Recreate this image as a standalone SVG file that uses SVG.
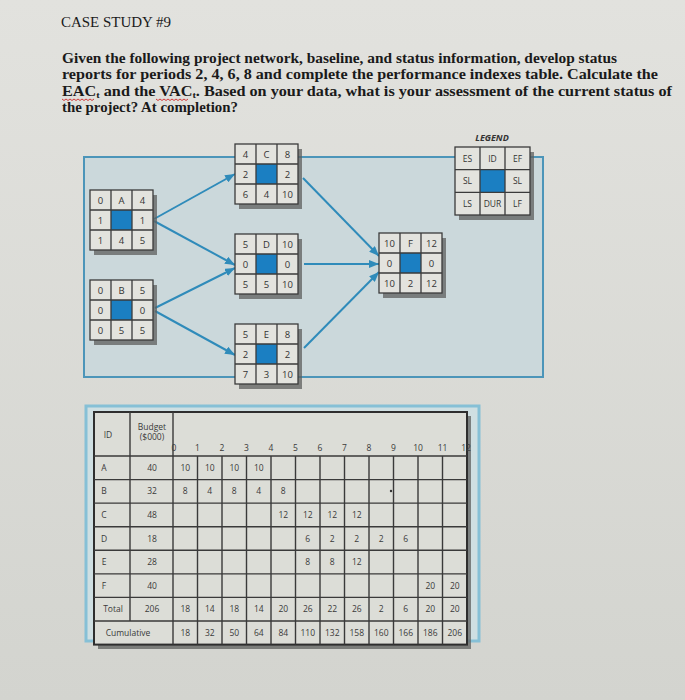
<svg xmlns="http://www.w3.org/2000/svg" width="685" height="700" viewBox="0 0 685 700">
<defs>
<linearGradient id="bg" x1="0" y1="0" x2="0" y2="1">
<stop offset="0" stop-color="#e2e2de"/>
<stop offset="1" stop-color="#d3d4cf"/>
</linearGradient>
<marker id="arr" markerUnits="userSpaceOnUse" markerWidth="10" markerHeight="8" refX="10" refY="4" orient="auto">
<path d="M0,0 L10,4 L0,8 z" fill="#2f8bba"/>
</marker>
<style>
.title{font-family:"Liberation Serif",serif;font-size:15px;fill:#1a1a1a}
.para{font-family:"Liberation Serif",serif;font-size:14px;font-weight:bold;fill:#1a1a1a}
.panel{fill:#cbd8db;stroke:#4c95b9;stroke-width:2}
.tpanel{fill:#cfdfe2;stroke:#86c0d6;stroke-width:3}
.shadow{fill:#5d5f5e;opacity:0.75}
.cell{fill:#e3e3de;stroke:#3b3b3b;stroke-width:1.3}
.grid{fill:none;stroke:#3b3b3b;stroke-width:1.3}
.blue{fill:#1b7fc2}
.nt{font-family:"Open Sans","Liberation Sans",sans-serif;font-size:9.5px;fill:#333;text-anchor:middle}
.lt{font-family:"Open Sans","Liberation Sans",sans-serif;font-size:8.5px;fill:#333;text-anchor:middle}
.conn{fill:none;stroke:#2f8bba;stroke-width:2;marker-end:url(#arr)}
.tbl{fill:#dcddd7;stroke:#2e2e2e;stroke-width:2}
.tg{fill:none;stroke:#3a3a3a;stroke-width:1.4}
.tt{font-family:"Open Sans","Liberation Sans",sans-serif;font-size:8.5px;fill:#3a3a3a;text-anchor:middle}
.squig{fill:none;stroke:#d23a3a;stroke-width:1}
</style>
</defs>
<rect x="0" y="0" width="685" height="700" fill="url(#bg)"/>

<g id="text">
<text class="title" x="61" y="27" textLength="110" lengthAdjust="spacingAndGlyphs">CASE STUDY #9</text>
<text class="para" x="62" y="63" textLength="555" lengthAdjust="spacingAndGlyphs">Given the following project network, baseline, and status information, develop status</text>
<text class="para" x="62" y="79" textLength="596" lengthAdjust="spacingAndGlyphs">reports for periods 2, 4, 6, 8 and complete the performance indexes table. Calculate the</text>
<text class="para" x="62" y="96" textLength="610" lengthAdjust="spacingAndGlyphs">EAC<tspan font-size="9" dy="2">t</tspan><tspan dy="-2"> and the VAC</tspan><tspan font-size="9" dy="2">t</tspan><tspan dy="-2">. Based on your data, what is your assessment of the current status of</tspan></text>
<text class="para" x="62" y="112" textLength="176" lengthAdjust="spacingAndGlyphs">the project? At completion?</text>
<path class="squig" d="M62,99 l2,1.5 l2,-1.5 l2,1.5 l2,-1.5 l2,1.5 l2,-1.5 l2,1.5 l2,-1.5 l2,1.5 l2,-1.5 l2,1.5 l2,-1.5 l2,1.5 l2,-1.5 l2,1.5 l2,-1.5"/>
<path class="squig" d="M156,99 l2,1.5 l2,-1.5 l2,1.5 l2,-1.5 l2,1.5 l2,-1.5 l2,1.5 l2,-1.5 l2,1.5 l2,-1.5 l2,1.5 l2,-1.5 l2,1.5 l2,-1.5 l2,1.5 l2,-1.5"/>
</g>

<rect id="network-panel" class="panel" x="84" y="157" width="459" height="220"/>

<g id="connectors">
<path class="conn" d="M154,219 L235,174"/>
<path class="conn" d="M154,221 L235,265"/>
<path class="conn" d="M155,308 L235,268"/>
<path class="conn" d="M155,311 L235,355"/>
<path class="conn" d="M303,178 L379,256"/>
<path class="conn" d="M304,264 L379,264"/>
<path class="conn" d="M304,348 L379,272"/>
</g>

<g id="node-A" transform="translate(90,190)">
<rect class="shadow" x="4" y="5" width="63" height="60"/>
<rect class="cell" x="0" y="0" width="63" height="60"/>
<rect class="blue" x="21" y="20" width="21" height="20"/>
<path class="grid" d="M21,0V60M42,0V60M0,20H63M0,40H63"/>
<text class="nt" x="10.5" y="13.5">0</text><text class="nt" x="31.5" y="13.5">A</text><text class="nt" x="52.5" y="13.5">4</text>
<text class="nt" x="10.5" y="33.5">1</text><text class="nt" x="52.5" y="33.5">1</text>
<text class="nt" x="10.5" y="53.5">1</text><text class="nt" x="31.5" y="53.5">4</text><text class="nt" x="52.5" y="53.5">5</text>
</g>

<g id="node-B" transform="translate(90,280)">
<rect class="shadow" x="4" y="5" width="63" height="60"/>
<rect class="cell" x="0" y="0" width="63" height="60"/>
<rect class="blue" x="21" y="20" width="21" height="20"/>
<path class="grid" d="M21,0V60M42,0V60M0,20H63M0,40H63"/>
<text class="nt" x="10.5" y="13.5">0</text><text class="nt" x="31.5" y="13.5">B</text><text class="nt" x="52.5" y="13.5">5</text>
<text class="nt" x="10.5" y="33.5">0</text><text class="nt" x="52.5" y="33.5">0</text>
<text class="nt" x="10.5" y="53.5">0</text><text class="nt" x="31.5" y="53.5">5</text><text class="nt" x="52.5" y="53.5">5</text>
</g>

<g id="node-C" transform="translate(235,144)">
<rect class="shadow" x="4" y="5" width="63" height="60"/>
<rect class="cell" x="0" y="0" width="63" height="60"/>
<rect class="blue" x="21" y="20" width="21" height="20"/>
<path class="grid" d="M21,0V60M42,0V60M0,20H63M0,40H63"/>
<text class="nt" x="10.5" y="13.5">4</text><text class="nt" x="31.5" y="13.5">C</text><text class="nt" x="52.5" y="13.5">8</text>
<text class="nt" x="10.5" y="33.5">2</text><text class="nt" x="52.5" y="33.5">2</text>
<text class="nt" x="10.5" y="53.5">6</text><text class="nt" x="31.5" y="53.5">4</text><text class="nt" x="52.5" y="53.5">10</text>
</g>

<g id="node-D" transform="translate(235,234)">
<rect class="shadow" x="4" y="5" width="63" height="60"/>
<rect class="cell" x="0" y="0" width="63" height="60"/>
<rect class="blue" x="21" y="20" width="21" height="20"/>
<path class="grid" d="M21,0V60M42,0V60M0,20H63M0,40H63"/>
<text class="nt" x="10.5" y="13.5">5</text><text class="nt" x="31.5" y="13.5">D</text><text class="nt" x="52.5" y="13.5">10</text>
<text class="nt" x="10.5" y="33.5">0</text><text class="nt" x="52.5" y="33.5">0</text>
<text class="nt" x="10.5" y="53.5">5</text><text class="nt" x="31.5" y="53.5">5</text><text class="nt" x="52.5" y="53.5">10</text>
</g>

<g id="node-E" transform="translate(235,324)">
<rect class="shadow" x="4" y="5" width="63" height="60"/>
<rect class="cell" x="0" y="0" width="63" height="60"/>
<rect class="blue" x="21" y="20" width="21" height="20"/>
<path class="grid" d="M21,0V60M42,0V60M0,20H63M0,40H63"/>
<text class="nt" x="10.5" y="13.5">5</text><text class="nt" x="31.5" y="13.5">E</text><text class="nt" x="52.5" y="13.5">8</text>
<text class="nt" x="10.5" y="33.5">2</text><text class="nt" x="52.5" y="33.5">2</text>
<text class="nt" x="10.5" y="53.5">7</text><text class="nt" x="31.5" y="53.5">3</text><text class="nt" x="52.5" y="53.5">10</text>
</g>

<g id="node-F" transform="translate(379,233)">
<rect class="shadow" x="4" y="5" width="63" height="60"/>
<rect class="cell" x="0" y="0" width="63" height="60"/>
<rect class="blue" x="21" y="20" width="21" height="20"/>
<path class="grid" d="M21,0V60M42,0V60M0,20H63M0,40H63"/>
<text class="nt" x="10.5" y="13.5">10</text><text class="nt" x="31.5" y="13.5">F</text><text class="nt" x="52.5" y="13.5">12</text>
<text class="nt" x="10.5" y="33.5">0</text><text class="nt" x="52.5" y="33.5">0</text>
<text class="nt" x="10.5" y="53.5">10</text><text class="nt" x="31.5" y="53.5">2</text><text class="nt" x="52.5" y="53.5">12</text>
</g>

<g id="legend">
<text x="492" y="141" font-family="Open Sans, Liberation Sans, sans-serif" font-size="9" font-style="italic" font-weight="bold" fill="#333" text-anchor="middle">LEGEND</text>
<g transform="translate(455,147)">
<rect class="shadow" x="4" y="5" width="75" height="68"/>
<rect class="cell" x="0" y="0" width="75" height="68"/>
<rect class="blue" x="25" y="22.7" width="25" height="22.7"/>
<path class="grid" d="M25,0V68M50,0V68M0,22.7H75M0,45.3H75"/>
<text class="lt" x="12.5" y="14.5">ES</text><text class="lt" x="37.5" y="14.5">ID</text><text class="lt" x="62.5" y="14.5">EF</text>
<text class="lt" x="12.5" y="37">SL</text><text class="lt" x="62.5" y="37">SL</text>
<text class="lt" x="12.5" y="59.5">LS</text><text class="lt" x="37.5" y="59.5">DUR</text><text class="lt" x="62.5" y="59.5">LF</text>
</g>
</g>

<g id="budget-table">
<rect class="tpanel" x="86" y="406" width="393" height="235"/>
<rect class="shadow" x="98" y="416" width="373" height="233"/>
<rect class="tbl" x="94" y="412" width="373" height="232.6"/>
<path class="tg" d="M130,412V621M173,412V644.6M197.5,456V644.6M222,456V644.6M246.5,456V644.6M271,456V644.6M295.5,456V644.6M320,456V644.6M344.5,456V644.6M369,456V644.6M393.5,456V644.6M418,456V644.6M442.5,456V644.6"/>
<path class="tg" d="M94,456H467M94,479.6H467M94,503.1H467M94,526.7H467M94,550.3H467M94,573.9H467M94,597.4H467M94,621H467"/>
<circle cx="391" cy="491" r="1.2" fill="#333"/>
<text class="tt" x="108" y="438">ID</text>
<text class="tt" x="152" y="430">Budget</text>
<text class="tt" x="152" y="440">($000)</text>
<text class="tt" x="174" y="451">0</text><text class="tt" x="197.5" y="451">1</text><text class="tt" x="222" y="451">2</text><text class="tt" x="246.5" y="451">3</text><text class="tt" x="271" y="451">4</text><text class="tt" x="295.5" y="451">5</text><text class="tt" x="320" y="451">6</text><text class="tt" x="344.5" y="451">7</text><text class="tt" x="369" y="451">8</text><text class="tt" x="393.5" y="451">9</text><text class="tt" x="418" y="451">10</text><text class="tt" x="442.5" y="451">11</text><text class="tt" x="466" y="451">12</text>

<text class="tt" x="104" y="470.8">A</text><text class="tt" x="152" y="470.8">40</text>
<text class="tt" x="185.25" y="470.8">10</text><text class="tt" x="209.75" y="470.8">10</text><text class="tt" x="234.25" y="470.8">10</text><text class="tt" x="258.75" y="470.8">10</text>

<text class="tt" x="104" y="494.4">B</text><text class="tt" x="152" y="494.4">32</text>
<text class="tt" x="185.25" y="494.4">8</text><text class="tt" x="209.75" y="494.4">4</text><text class="tt" x="234.25" y="494.4">8</text><text class="tt" x="258.75" y="494.4">4</text><text class="tt" x="283.25" y="494.4">8</text>

<text class="tt" x="104" y="517.9">C</text><text class="tt" x="152" y="517.9">48</text>
<text class="tt" x="283.25" y="517.9">12</text><text class="tt" x="307.75" y="517.9">12</text><text class="tt" x="332.25" y="517.9">12</text><text class="tt" x="356.75" y="517.9">12</text>

<text class="tt" x="104" y="541.5">D</text><text class="tt" x="152" y="541.5">18</text>
<text class="tt" x="307.75" y="541.5">6</text><text class="tt" x="332.25" y="541.5">2</text><text class="tt" x="356.75" y="541.5">2</text><text class="tt" x="381.25" y="541.5">2</text><text class="tt" x="405.75" y="541.5">6</text>

<text class="tt" x="104" y="565.1">E</text><text class="tt" x="152" y="565.1">28</text>
<text class="tt" x="307.75" y="565.1">8</text><text class="tt" x="332.25" y="565.1">8</text><text class="tt" x="356.75" y="565.1">12</text>

<text class="tt" x="104" y="588.6">F</text><text class="tt" x="152" y="588.6">40</text>
<text class="tt" x="430.25" y="588.6">20</text><text class="tt" x="454.75" y="588.6">20</text>

<text class="tt" x="113" y="612.2">Total</text><text class="tt" x="152" y="612.2">206</text>
<text class="tt" x="185.25" y="612.2">18</text><text class="tt" x="209.75" y="612.2">14</text><text class="tt" x="234.25" y="612.2">18</text><text class="tt" x="258.75" y="612.2">14</text><text class="tt" x="283.25" y="612.2">20</text><text class="tt" x="307.75" y="612.2">26</text><text class="tt" x="332.25" y="612.2">22</text><text class="tt" x="356.75" y="612.2">26</text><text class="tt" x="381.25" y="612.2">2</text><text class="tt" x="405.75" y="612.2">6</text><text class="tt" x="430.25" y="612.2">20</text><text class="tt" x="454.75" y="612.2">20</text>

<text class="tt" x="128" y="635.8">Cumulative</text>
<text class="tt" x="185.25" y="635.8">18</text><text class="tt" x="209.75" y="635.8">32</text><text class="tt" x="234.25" y="635.8">50</text><text class="tt" x="258.75" y="635.8">64</text><text class="tt" x="283.25" y="635.8">84</text><text class="tt" x="307.75" y="635.8">110</text><text class="tt" x="332.25" y="635.8">132</text><text class="tt" x="356.75" y="635.8">158</text><text class="tt" x="381.25" y="635.8">160</text><text class="tt" x="405.75" y="635.8">166</text><text class="tt" x="430.25" y="635.8">186</text><text class="tt" x="454.75" y="635.8">206</text>
</g>
</svg>
